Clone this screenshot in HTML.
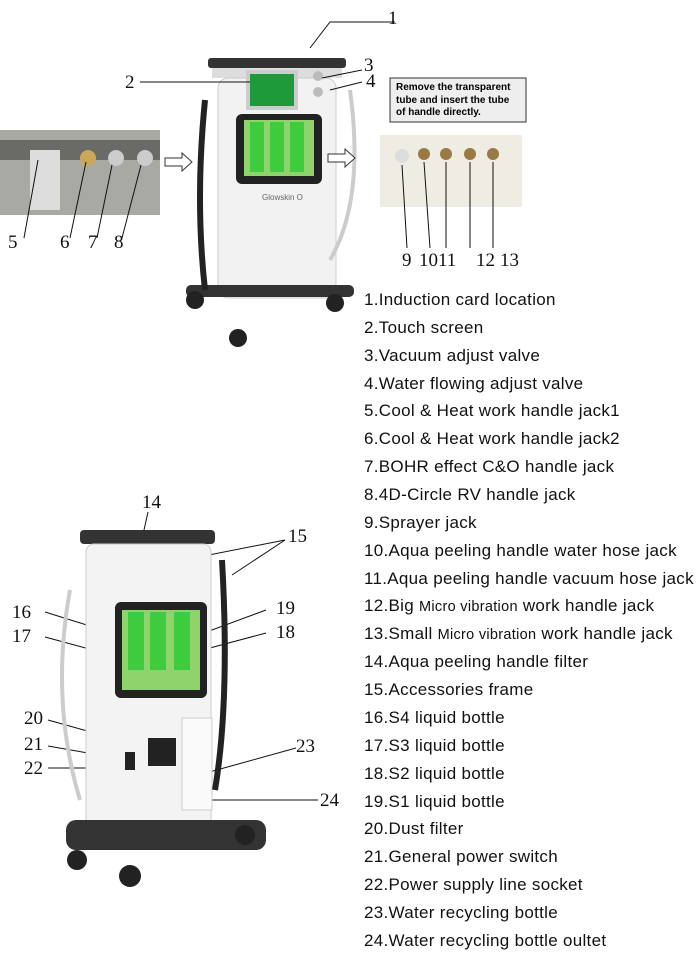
<!DOCTYPE html>
<html><head><meta charset="utf-8"><style>
body{margin:0;background:#fff;width:700px;height:966px;position:relative;overflow:hidden;font-family:"Liberation Sans",sans-serif}
.l{position:absolute;left:364px;font-size:17px;color:#111;white-space:nowrap;letter-spacing:0.3px}
.n{position:absolute;font-family:"Liberation Serif",serif;font-size:19px;color:#111}
svg{position:absolute;left:0;top:0}
</style></head><body>
<svg width="700" height="966">
<rect x="208" y="58" width="138" height="10" rx="3" fill="#333"/>
<rect x="212" y="68" width="130" height="10" fill="#ddd"/>
<rect x="218" y="78" width="118" height="220" rx="10" fill="#f2f2f2" stroke="#ccc"/>
<rect x="246" y="70" width="52" height="40" fill="#ccc"/>
<rect x="250" y="74" width="44" height="32" fill="#1f9a3a"/>
<rect x="236" y="114" width="86" height="70" rx="6" fill="#222"/>
<rect x="244" y="120" width="70" height="56" fill="#8fd36c"/>
<rect x="250" y="122" width="14" height="50" fill="#3ecb3e"/><rect x="270" y="122" width="14" height="50" fill="#3ecb3e"/><rect x="290" y="122" width="14" height="50" fill="#3ecb3e"/>
<text x="262" y="200" font-size="8" fill="#666" font-family="Liberation Sans">Glowskin O</text>
<rect x="186" y="285" width="168" height="12" rx="5" fill="#333"/>
<circle cx="195" cy="300" r="9" fill="#222"/><circle cx="335" cy="303" r="9" fill="#222"/><circle cx="238" cy="338" r="9" fill="#222"/>
<path d="M205 100 Q195 200 205 290" stroke="#222" stroke-width="6" fill="none"/>
<path d="M350 90 Q365 200 330 260" stroke="#ccc" stroke-width="4" fill="none"/>
<circle cx="318" cy="76" r="5" fill="#bbb"/><circle cx="318" cy="92" r="5" fill="#bbb"/>
<rect x="0" y="130" width="160" height="85" fill="#a9a9a4"/>
<rect x="0" y="140" width="160" height="20" fill="#6a6a66"/>
<rect x="30" y="150" width="30" height="60" fill="#ddd"/>
<circle cx="88" cy="158" r="8" fill="#c9a85a"/><circle cx="116" cy="158" r="8" fill="#ccc"/><circle cx="145" cy="158" r="8" fill="#ccc"/>
<polygon points="165,158 182,158 182,153 192,162 182,171 182,166 165,166" fill="#fff" stroke="#333"/>
<rect x="380" y="135" width="142" height="72" fill="#efece4"/>
<circle cx="402" cy="156" r="7" fill="#ddd"/><circle cx="424" cy="154" r="6" fill="#9a7a44"/><circle cx="446" cy="154" r="6" fill="#9a7a44"/><circle cx="470" cy="154" r="6" fill="#9a7a44"/><circle cx="493" cy="154" r="6" fill="#9a7a44"/>
<polygon points="328,154 345,154 345,149 355,158 345,167 345,162 328,162" fill="#fff" stroke="#333"/>
<rect x="390" y="78" width="136" height="44" fill="#eee" stroke="#333"/>
<g stroke="#111" stroke-width="1" fill="none">
<path d="M310 48 L330 22 L395 22"/><path d="M140 82 L250 82"/><path d="M322 78 L362 70"/><path d="M330 90 L362 82"/>
<path d="M24 238 L38 160"/><path d="M70 238 L86 162"/><path d="M97 238 L112 165"/><path d="M122 238 L141 165"/>
<path d="M407 248 L402 165"/><path d="M430 248 L424 162"/><path d="M446 248 L446 162"/><path d="M470 248 L470 162"/><path d="M493 248 L493 162"/>
<path d="M148 512 L140 548"/><path d="M285 540 L232 575"/><path d="M285 540 L92 578"/>
<path d="M45 612 L135 640"/><path d="M45 637 L130 660"/><path d="M266 610 L185 640"/><path d="M266 633 L165 660"/>
<path d="M48 720 L148 748"/><path d="M48 746 L128 760"/><path d="M48 768 L128 768"/><path d="M296 748 L195 776"/><path d="M318 800 L192 800"/>
</g>
<rect x="80" y="530" width="135" height="14" rx="4" fill="#333"/>
<rect x="86" y="544" width="125" height="300" rx="8" fill="#f3f3f3" stroke="#ccc"/>
<rect x="115" y="602" width="92" height="96" rx="6" fill="#222"/>
<rect x="122" y="610" width="78" height="80" fill="#8fd36c"/>
<rect x="128" y="612" width="16" height="58" fill="#3ecb3e"/><rect x="150" y="612" width="16" height="58" fill="#3ecb3e"/><rect x="174" y="612" width="16" height="58" fill="#3ecb3e"/>
<rect x="148" y="738" width="28" height="28" fill="#222"/>
<rect x="125" y="752" width="10" height="18" fill="#222"/>
<rect x="182" y="718" width="30" height="92" fill="#fafafa" stroke="#ccc"/>
<rect x="66" y="820" width="200" height="30" rx="10" fill="#333"/>
<circle cx="77" cy="860" r="10" fill="#222"/><circle cx="130" cy="876" r="11" fill="#222"/><circle cx="245" cy="835" r="10" fill="#222"/>
<path d="M222 560 Q230 700 215 790" stroke="#222" stroke-width="6" fill="none"/>
<path d="M70 590 Q50 700 80 800" stroke="#ccc" stroke-width="4" fill="none"/>
</svg>
<div style="position:absolute;left:396px;top:82px;font-size:10px;font-weight:bold;line-height:12.5px">Remove the transparent<br>tube and insert the tube<br>of handle directly.</div>
<div class="n" style="left:388px;top:8px">1</div><div class="n" style="left:125px;top:72px">2</div>
<div class="n" style="left:364px;top:55px">3</div><div class="n" style="left:366px;top:71px">4</div>
<div class="n" style="left:8px;top:232px">5</div><div class="n" style="left:60px;top:232px">6</div><div class="n" style="left:88px;top:232px">7</div><div class="n" style="left:114px;top:232px">8</div>
<div class="n" style="left:402px;top:250px">9</div><div class="n" style="left:419px;top:250px">1011</div><div class="n" style="left:476px;top:250px">12</div><div class="n" style="left:500px;top:250px">13</div>
<div class="n" style="left:142px;top:492px">14</div><div class="n" style="left:288px;top:526px">15</div>
<div class="n" style="left:12px;top:602px">16</div><div class="n" style="left:12px;top:626px">17</div><div class="n" style="left:276px;top:598px">19</div><div class="n" style="left:276px;top:622px">18</div>
<div class="n" style="left:24px;top:708px">20</div><div class="n" style="left:24px;top:734px">21</div><div class="n" style="left:24px;top:758px">22</div>
<div class="n" style="left:296px;top:736px">23</div><div class="n" style="left:320px;top:790px">24</div>
<div class="l" style="top:290px">1.Induction card location</div>
<div class="l" style="top:318px">2.Touch screen</div>
<div class="l" style="top:346px">3.Vacuum adjust valve</div>
<div class="l" style="top:374px">4.Water flowing adjust valve</div>
<div class="l" style="top:401px">5.Cool &amp; Heat work handle jack1</div>
<div class="l" style="top:429px">6.Cool &amp; Heat work handle jack2</div>
<div class="l" style="top:457px">7.BOHR effect C&amp;O handle jack</div>
<div class="l" style="top:485px">8.4D-Circle RV handle jack</div>
<div class="l" style="top:513px">9.Sprayer jack</div>
<div class="l" style="top:541px">10.Aqua peeling handle water hose jack</div>
<div class="l" style="top:569px">11.Aqua peeling handle vacuum hose jack</div>
<div class="l" style="top:596px">12.Big <span style="font-size:14.5px">Micro vibration</span> work handle jack</div>
<div class="l" style="top:624px">13.Small <span style="font-size:14.5px">Micro vibration</span> work handle jack</div>
<div class="l" style="top:652px">14.Aqua peeling handle filter</div>
<div class="l" style="top:680px">15.Accessories frame</div>
<div class="l" style="top:708px">16.S4 liquid bottle</div>
<div class="l" style="top:736px">17.S3 liquid bottle</div>
<div class="l" style="top:764px">18.S2 liquid bottle</div>
<div class="l" style="top:792px">19.S1 liquid bottle</div>
<div class="l" style="top:819px">20.Dust filter</div>
<div class="l" style="top:847px">21.General power switch</div>
<div class="l" style="top:875px">22.Power supply line socket</div>
<div class="l" style="top:903px">23.Water recycling bottle</div>
<div class="l" style="top:931px">24.Water recycling bottle oultet</div>
</body></html>
